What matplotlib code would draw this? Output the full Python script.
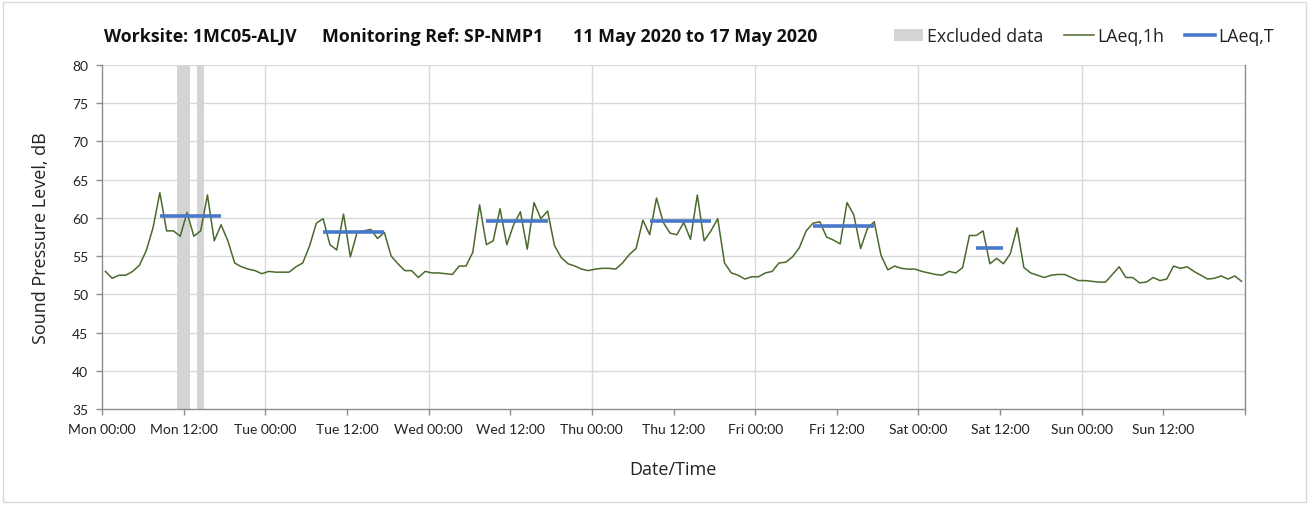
import matplotlib
matplotlib.use("Agg")
import matplotlib.pyplot as plt
from matplotlib.patches import Patch, Rectangle
from matplotlib.lines import Line2D
import numpy as np

plt.rcParams['font.family'] = ['Lato', 'DejaVu Sans']

# Hourly LAeq,1h values (Mon 00:00 .. Sun 23:00), plotted at mid-hour
laeq_1h = [
    53.0, 52.1, 52.5, 52.5, 53.0, 53.8, 55.7, 58.7, 63.3, 58.3,   # Mon 00-09
    58.3, 57.6, 60.7, 57.6, 58.3, 63.0, 57.0, 59.1, 57.0, 54.1,   # Mon 10-19
    53.6, 53.3, 53.1, 52.7, 53.0, 52.9, 52.9, 52.9, 53.6, 54.1,   # Mon 20 - Tue 05
    56.3, 59.3, 59.9, 56.5, 55.8, 60.5, 54.9, 58.1, 58.3, 58.5,   # Tue 06-15
    57.3, 58.1, 55.0, 54.0, 53.1, 53.1, 52.2, 53.0, 52.8, 52.8,   # Tue 16 - Wed 01
    52.7, 52.6, 53.7, 53.7, 55.5, 61.7, 56.5, 57.0, 61.2, 56.5,   # Wed 02-11
    59.1, 60.8, 55.9, 62.0, 59.9, 60.9, 56.4, 54.8, 54.0, 53.7,   # Wed 12-21
    53.3, 53.1, 53.3, 53.4, 53.4, 53.3, 54.1, 55.2, 56.0, 59.7,   # Wed 22 - Thu 07
    57.8, 62.6, 59.4, 58.0, 57.8, 59.4, 57.2, 63.0, 57.0, 58.3,   # Thu 08-17
    59.9, 54.1, 52.8, 52.5, 52.0, 52.3, 52.3, 52.8, 53.0, 54.1,   # Thu 18 - Fri 03
    54.2, 54.9, 56.1, 58.3, 59.3, 59.5, 57.5, 57.1, 56.6, 62.0,   # Fri 04-13
    60.4, 56.0, 58.6, 59.5, 55.1, 53.2, 53.7, 53.4, 53.3, 53.3,   # Fri 14-23
    53.0, 52.8, 52.6, 52.5, 53.0, 52.8, 53.5, 57.7, 57.7, 58.3,   # Sat 00-09
    54.0, 54.7, 54.0, 55.3, 58.7, 53.5, 52.8, 52.5, 52.2, 52.5,   # Sat 10-19
    52.6, 52.6, 52.2, 51.8, 51.8, 51.7, 51.6, 51.6, 52.6, 53.6,   # Sat 20 - Sun 05
    52.2, 52.2, 51.5, 51.6, 52.2, 51.8, 52.0, 53.7, 53.4, 53.6,   # Sun 06-15
    53.0, 52.5, 52.0, 52.1, 52.4, 52.0, 52.4, 51.7,               # Sun 16-23
]

# LAeq,T period values: (start hour, end hour, level)
period_start = [8.5, 32.5, 56.5, 80.5, 104.5, 128.5]
period_end = [17.5, 41.5, 65.5, 89.5, 113.5, 132.5]
period_level = [60.2, 58.1, 59.6, 59.6, 59.0, 56.1]

# Excluded data windows (hours from Mon 00:00)
excl_start = [11, 14]
excl_end = [13, 15]

day_names = ["Mon", "Tue", "Wed", "Thu", "Fri", "Sat", "Sun"]
tick_labels = [f"{d} {t}" for d in day_names for t in ("00:00", "12:00")] + [""]

title_parts = ["Worksite: 1MC05-ALJV", "Monitoring Ref: SP-NMP1", "11 May 2020 to 17 May 2020"]

GREEN = "#4a6a2c"
BLUE = "#4a78c8"
GREY_BAND = "#d4d4d4"
GRID = "#d9d9d9"
AXC = "#8c8c8c"
TXT = "#222222"
HFONT = ['Open Sans', 'DejaVu Sans']

W, H = 1309, 506
fig = plt.figure(figsize=(W / 100, H / 100), dpi=100)
ax = fig.add_axes([102 / W, 1 - 410 / H, (1245 - 102) / W, (410 - 66) / H])

hours = np.arange(len(laeq_1h)) + 0.5

for s, e in zip(excl_start, excl_end):
    ax.axvspan(s, e, color=GREY_BAND, lw=0, zorder=1)

ax.plot(hours, laeq_1h, color=GREEN, lw=1.1, zorder=3)
for s, e, lv in zip(period_start, period_end, period_level):
    ax.plot([s, e], [lv, lv], color=BLUE, lw=2.6, solid_capstyle='butt', zorder=4)

ax.set_xlim(0, 168)
ax.set_ylim(35, 80)
ax.set_yticks(np.arange(35, 81, 5))
ax.set_xticks(np.arange(0, 169, 12))
ax.set_xticklabels(tick_labels)

for y in np.arange(40, 81, 5):
    ax.axhline(y, color=GRID, lw=1.0, zorder=0)
for x in np.arange(24, 168, 24):
    ax.axvline(x, color=GRID, lw=1.0, zorder=0)

ax.spines["top"].set_visible(False)
for side in ("left", "bottom", "right"):
    ax.spines[side].set_color(AXC)
    ax.spines[side].set_linewidth(1.0)

ax.tick_params(axis='both', colors=AXC, length=4, width=1.0, direction='out')
ax.tick_params(axis='x', labelsize=10, labelcolor=TXT, pad=6)
ax.tick_params(axis='y', labelsize=10, labelcolor=TXT, pad=6)
ax.tick_params(right=False)

ax.set_ylabel("Sound Pressure Level, dB", fontsize=13, color=TXT, labelpad=16, family=HFONT)
fig.text(673 / W, 1 - 470 / H, "Date/Time", ha='center', va='center', fontsize=13, color=TXT,
         family=HFONT)

ty = 1 - 37 / H
for xpx, txt in zip([104, 322, 573], title_parts):
    fig.text(xpx / W, ty, txt, ha='left', va='center', fontsize=12.8, fontweight='bold',
             color="#111111", family=HFONT)

handles = [Patch(facecolor=GREY_BAND, edgecolor='none'),
           Line2D([], [], color=GREEN, lw=1.1),
           Line2D([], [], color=BLUE, lw=2.6)]
labels = ["Excluded data", "LAeq,1h", "LAeq,T"]
fig.legend(handles, labels, loc='center right', bbox_to_anchor=(1274 / W, ty), ncol=3,
           frameon=False, prop={'family': HFONT, 'size': 12.8}, handlelength=1.65,
           handletextpad=0.2, columnspacing=1.2, borderaxespad=0, borderpad=0,
           labelcolor=TXT)

fig.patches.append(Rectangle((3 / W, 3 / H), (W - 6) / W, (H - 6) / H, transform=fig.transFigure,
                             fill=False, edgecolor="#d9d9d9", lw=1.0))

fig.savefig("out.png", dpi=100, facecolor="white")
